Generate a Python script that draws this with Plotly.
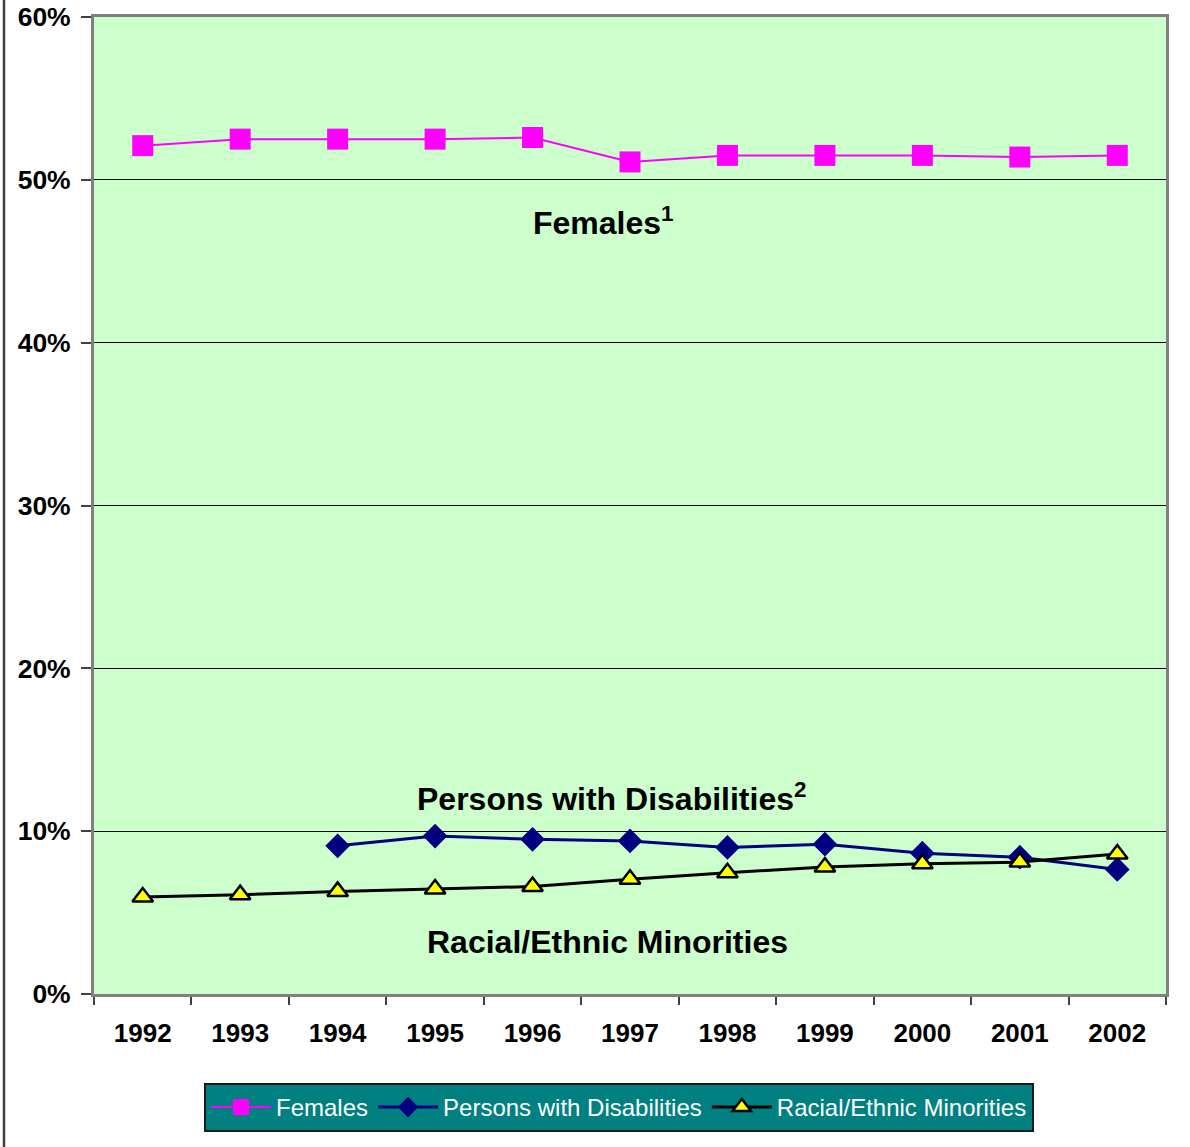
import plotly.graph_objects as go

# Share of workforce by group, 1992-2002 (percent)
years = ["1992", "1993", "1994", "1995", "1996", "1997", "1998", "1999", "2000", "2001", "2002"]
females = [52.1, 52.5, 52.5, 52.5, 52.6, 51.1, 51.5, 51.5, 51.5, 51.4, 51.5]
disabilities = [None, None, 9.1, 9.7, 9.5, 9.4, 9.0, 9.2, 8.65, 8.4, 7.65]
minorities = [5.95, 6.1, 6.3, 6.45, 6.6, 7.05, 7.45, 7.8, 8.0, 8.1, 8.6]
y_ticks = [0, 10, 20, 30, 40, 50, 60]
y_tick_labels = ["0%", "10%", "20%", "30%", "40%", "50%", "60%"]

FONT = "Liberation Sans, Arial, sans-serif"

fig = go.Figure()
fig.add_trace(go.Scatter(
    x=years, y=females, name="Females", mode="lines+markers",
    line=dict(color="#FF00FF", width=2),
    marker=dict(symbol="square", size=21, color="#FF00FF"),
))
fig.add_trace(go.Scatter(
    x=years, y=disabilities, name="Persons with Disabilities", mode="lines+markers",
    line=dict(color="#000080", width=3),
    marker=dict(symbol="diamond", size=19, color="#000080"),
))
fig.add_trace(go.Scatter(
    x=years, y=minorities, name="Racial/Ethnic Minorities", mode="lines+markers",
    line=dict(color="#000000", width=3),
    marker=dict(symbol="triangle-up", size=18, color="#FFFF00",
                line=dict(color="#000000", width=2.5)),
))

# series labels inside the plot (text, y value, horizontal pixel centre)
labels = [
    ("Females<sup>1</sup>", 47.5, 603),
    ("Persons with Disabilities<sup>2</sup>", 12.1, 611),
    ("Racial/Ethnic Minorities", 3.2, 607),
]
for text, yv, px in labels:
    fig.add_annotation(
        text=text, xref="paper", x=(px - 94) / 1072, y=yv, yref="y",
        showarrow=False, xanchor="center", yanchor="middle",
        font=dict(family=FONT, size=32, color="#000000", weight="bold"),
    )

# thin frame line along the left edge of the chart
fig.add_shape(type="line", xref="paper", yref="paper",
              x0=(4 - 94) / 1072, x1=(4 - 94) / 1072, y0=-0.2, y1=1.1,
              line=dict(color="#404040", width=2.5))

fig.update_layout(
    width=1190, height=1147,
    margin=dict(l=94, r=24, t=17, b=153, autoexpand=False),
    paper_bgcolor="#FFFFFF",
    plot_bgcolor="#CCFFCC",
    font=dict(family=FONT, color="#000000"),
    showlegend=True,
    legend=dict(
        orientation="h",
        xref="container", yref="container",
        x=619 / 1190, xanchor="center",
        y=1 - 1083 / 1147, yanchor="top",
        bgcolor="#008080", bordercolor="#1a1a1a", borderwidth=2,
        font=dict(family=FONT, size=24, color="#FFFFFF"),
        itemwidth=60, tracegroupgap=0,
    ),
    xaxis=dict(
        type="category", categoryorder="array", categoryarray=years,
        range=[-0.5, 10.5], automargin=False,
        tickson="boundaries", ticks="outside", ticklen=8, tickcolor="#404040", tickwidth=2,
        showline=True, linecolor="#808080", linewidth=3, mirror=True,
        showgrid=False, zeroline=False,
        tickfont=dict(family=FONT, size=26, color="#000000", weight="bold"),
        ticklabelstandoff=14,
    ),
    yaxis=dict(
        range=[0, 60], tickvals=y_ticks, ticktext=y_tick_labels, automargin=False,
        ticks="outside", ticklen=10, tickcolor="#404040", tickwidth=1.5,
        showline=True, linecolor="#808080", linewidth=3, mirror=True,
        showgrid=True, gridcolor="#000000", gridwidth=1, zeroline=False,
        tickfont=dict(family=FONT, size=26.5, color="#000000", weight="bold"),
        ticklabelstandoff=5,
    ),
)

fig.write_html("out.html")
